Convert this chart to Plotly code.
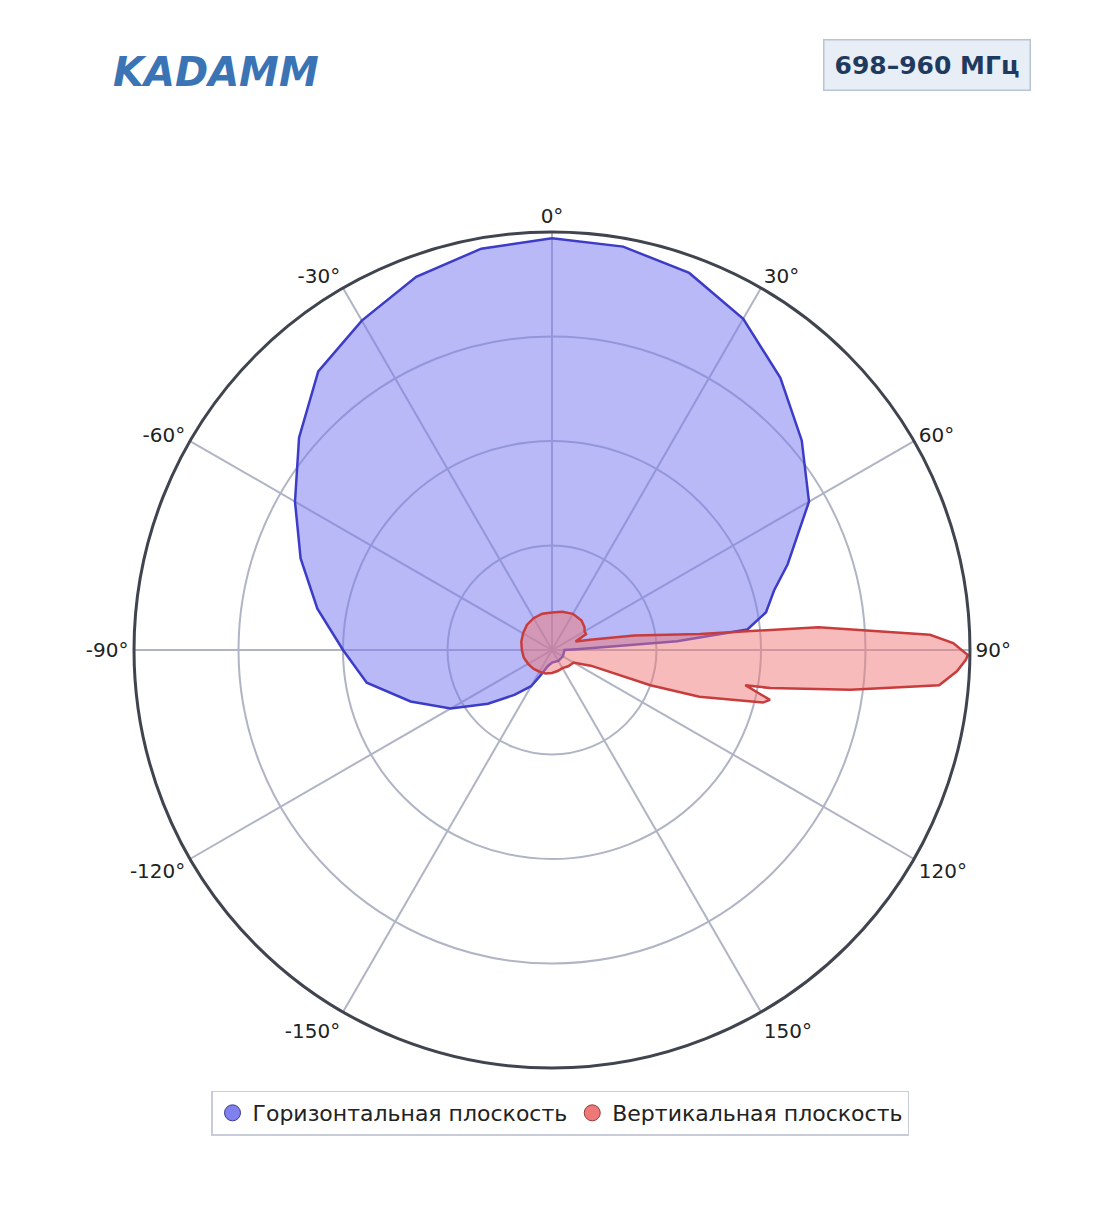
import plotly.graph_objects as go

# Horizontal plane pattern (normalised 0..1)
h_theta = [0, 10, 20, 30, 40, 50, 60, 70, 75, 80, 84, 86, 88, 90, 120, 150, 180, -165, -155, -150, -140, -130, -120, -110, -100, -90, -80, -70, -60, -50, -40, -30, -20, -10, 0]
h_r = [0.985, 0.98, 0.96, 0.915, 0.85, 0.78, 0.71, 0.6, 0.55, 0.52, 0.47, 0.3, 0.06, 0.03, 0.03, 0.03, 0.03, 0.04, 0.07, 0.1, 0.14, 0.2, 0.28, 0.36, 0.45, 0.5, 0.57, 0.64, 0.71, 0.79, 0.87, 0.91, 0.95, 0.975, 0.985]

# Vertical plane pattern
v_theta = [0, 15, 30, 45, 55, 60, 65, 70, 75, 80, 83.8, 85.1, 87.7, 89, 90.7, 91.4, 93, 95.2, 97.6, 99.9, 100.3, 102.9, 104, 107.6, 109.7, 112, 115, 120, 135, 150, 165, 180, -165, -150, -135, -120, -105, -90, -75, -60, -45, -30, -15, 0]
v_r = [0.09, 0.095, 0.1, 0.1, 0.095, 0.09, 0.09, 0.06, 0.094, 0.2, 0.356, 0.64, 0.905, 0.96, 0.995, 0.99, 0.97, 0.93, 0.72, 0.53, 0.47, 0.535, 0.52, 0.37, 0.25, 0.1, 0.08, 0.06, 0.055, 0.05, 0.052, 0.055, 0.058, 0.06, 0.063, 0.066, 0.07, 0.072, 0.076, 0.08, 0.085, 0.088, 0.09, 0.09]

tick_vals = [0, 30, 60, 90, 120, 150, 210, 240, 270, 300, 330]
tick_text = ['0°', '30°', '60°', '90°', '120°', '150°', '-150°', '-120°', '-90°', '-60°', '-30°']

fig = go.Figure()
fig.add_trace(go.Scatterpolar(r=h_r, theta=h_theta, mode='lines', fill='toself',
                              line=dict(color='#3c3cc8', width=2.5),
                              fillcolor='rgba(120,122,238,0.53)', showlegend=False))
fig.add_trace(go.Scatterpolar(r=v_r, theta=v_theta, mode='lines', fill='toself',
                              line=dict(color='#c83c3c', width=2.5),
                              fillcolor='rgba(240,120,120,0.5)', showlegend=False))
# legend entries with round markers
fig.add_trace(go.Scatterpolar(r=[None], theta=[None], mode='markers', name='Горизонтальная плоскость',
                              marker=dict(size=22, color='#8080ee', line=dict(color='#3c3c90', width=1))))
fig.add_trace(go.Scatterpolar(r=[None], theta=[None], mode='markers', name='Вертикальная плоскость',
                              marker=dict(size=22, color='#ee7878', line=dict(color='#903c3c', width=1))))

fig.update_layout(
    width=1104, height=1211,
    paper_bgcolor='white',
    font=dict(family='DejaVu Sans', size=20, color='#222'),
    margin=dict(l=0, r=0, t=0, b=0),
    polar=dict(
        domain=dict(x=[0, 0.9855], y=[0.1247, 0.815]),
        bgcolor='white',
        radialaxis=dict(range=[0, 1], tickvals=[0.25, 0.5, 0.75, 1], showticklabels=False,
                        gridcolor='#b0b4c4', gridwidth=1.5, showline=False, ticks=''),
        angularaxis=dict(rotation=90, direction='clockwise', tickvals=tick_vals, ticktext=tick_text,
                         gridcolor='#b0b4c4', gridwidth=1.5, linecolor='#40444f', linewidth=3, ticks=''),
    ),
    legend=dict(orientation='h', x=0.5, xanchor='center', y=0.0875, yanchor='middle',
                bordercolor='#c8ccd8', borderwidth=1.5, font=dict(size=22)),
)

fig.add_annotation(text='<b><i>KADAMM</i></b>', x=0.093, y=0.968, xref='paper', yref='paper', xanchor='left',
                   showarrow=False, font=dict(size=40, color='#3a74b4', family='DejaVu Sans'))
fig.add_annotation(text='<b>698–960 МГц</b>', x=0.927, y=0.974, xref='paper', yref='paper', xanchor='right',
                   showarrow=False, bgcolor='#e8eef5', bordercolor='#b8c4d4', borderwidth=1.5, borderpad=10,
                   font=dict(size=25, color='#1f3a5f'))

fig.write_html("out.html")
